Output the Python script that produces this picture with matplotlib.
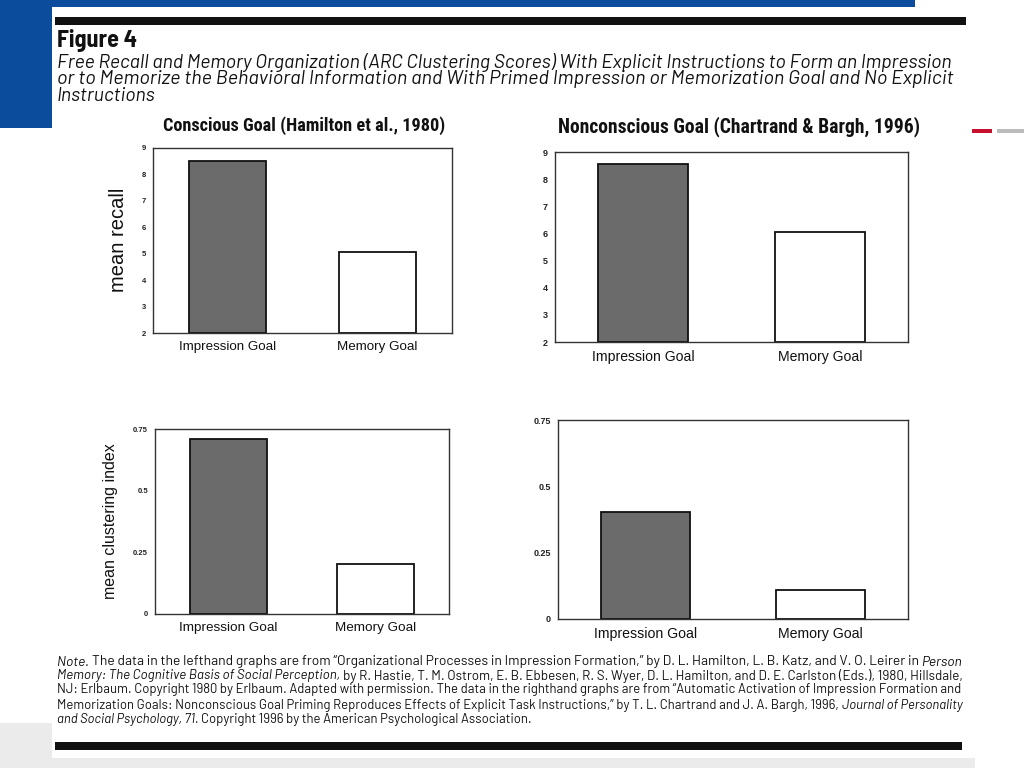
import matplotlib
matplotlib.use("Agg")
import matplotlib.pyplot as plt
from matplotlib import font_manager
from matplotlib.patches import Rectangle

# ---------------- data ----------------
categories = ["Impression Goal", "Memory Goal"]
recall_conscious = [8.52, 5.05]
recall_nonconscious = [8.55, 6.06]
cluster_conscious = [0.708, 0.203]
cluster_nonconscious = [0.404, 0.109]
recall_ticks = [2, 3, 4, 5, 6, 7, 8, 9]
cluster_ticks = [0, 0.25, 0.5, 0.75]
cluster_ticklabels = ["0", "0.25", "0.5", "0.75"]
title_left = "Conscious Goal (Hamilton et al., 1980)"
title_right = "Nonconscious Goal (Chartrand & Bargh, 1996)"
bar_colors = ["#6b6b6b", "white"]

W, H = 1024, 768
fig = plt.figure(figsize=(W / 100, H / 100), dpi=100)
fig.patch.set_facecolor("white")
renderer = fig.canvas.get_renderer()

available = {f.name for f in font_manager.fontManager.ttflist}


def pick(*names):
    fams = [n for n in names if n in available]
    return fams + ["DejaVu Sans"]


SANS = pick("Liberation Sans")
COND_BOLD = pick("Roboto Condensed", "Liberation Sans Narrow", "Archivo Narrow", "Asap Condensed", "Liberation Sans")
GEO_BOLD = pick("Barlow Semi Condensed", "Barlow", "Liberation Sans")
GEO = pick("Barlow", "Liberation Sans")


def fx(x):
    return x / W


def fy(y):
    return 1 - y / H


def rect(x0, y0, x1, y1, color):
    fig.patches.append(Rectangle((fx(x0), fy(y1)), fx(x1) - fx(x0), fy(y0) - fy(y1),
                                 transform=fig.transFigure, color=color, zorder=0, lw=0))


# decorative slide elements
rect(0, 0, 915, 7, "#0b4c9c")
rect(0, 0, 52, 128, "#0b4c9c")
rect(55, 17, 966, 25, "#111111")
rect(55, 742, 962, 750, "#111111")
rect(0, 723, 52, 768, "#ebebeb")
rect(0, 758, 975, 768, "#ebebeb")
rect(972, 129, 992, 133, "#c8102e")
rect(997, 129, 1024, 133, "#bbbbbb")


def measure(s, fs=10, **kw):
    t = fig.text(0, 0, s, fontsize=fs, **kw)
    w = t.get_window_extent(renderer).width
    t.remove()
    return w


def fit(x, y, s, width, **kw):
    fs = 10 * width / measure(s, 10, **kw)
    fs = fs * width / measure(s, fs, **kw)
    return fig.text(fx(x), fy(y), s, fontsize=fs, va="center", ha="left", **kw)


def seg_line(x, y, segments, width=None, fontsize=None, family=GEO, weight="normal"):
    def layout(fs):
        adv = []
        for s, st in segments:
            kw = dict(style=st, family=family, weight=weight)
            adv.append(measure(s + " x", fs, **kw) - measure("x", fs, **kw))
        last_kw = dict(style=segments[-1][1], family=family, weight=weight)
        total = sum(adv[:-1]) + measure(segments[-1][0], fs, **last_kw)
        return adv, total

    if fontsize is None:
        fs = 10.0
        for _ in range(3):
            adv, total = layout(fs)
            fs = fs * width / total
        fontsize = fs
    adv, total = layout(fontsize)
    cx = x
    for (s, st), a in zip(segments, adv):
        fig.text(fx(cx), fy(y), s, fontsize=fontsize, style=st, family=family, weight=weight,
                 va="center", ha="left", color="#111111")
        cx += a
    return fontsize


# header
fit(57, 40, "Figure 4", 80, weight="bold", family=GEO_BOLD, color="#111111")
fs_cap = seg_line(57, 62, [("Free Recall and Memory Organization (ARC Clustering Scores) With Explicit Instructions to Form an Impression", "italic")],
                  width=895)
seg_line(57, 79, [("or to Memorize the Behavioral Information and With Primed Impression or Memorization Goal and No Explicit", "italic")],
         width=897)
seg_line(57, 96, [("Instructions", "italic")], fontsize=fs_cap)

# panel titles
fit(163, 126, title_left, 282, weight="bold", family=COND_BOLD, color="#111111")
fit(558, 127, title_right, 362, weight="bold", family=COND_BOLD, color="#111111")


def panel(box, values, ticks, ticklabels, ylim, tick_fs, xlab_fs, width):
    x0, y0, x1, y1 = box
    ax = fig.add_axes([fx(x0), fy(y1), fx(x1) - fx(x0), fy(y0) - fy(y1)])
    ax.bar(range(len(categories)), [v - ylim[0] for v in values], bottom=ylim[0],
           width=width, color=bar_colors, edgecolor="#111111", linewidth=1.3)
    ax.set_xlim(-0.5, 1.5)
    ax.set_ylim(*ylim)
    ax.set_yticks(ticks)
    ax.set_yticklabels(ticklabels, fontsize=tick_fs, family=SANS, weight="bold", color="#222222")
    ax.set_xticks(range(len(categories)))
    ax.set_xticklabels(categories, fontsize=xlab_fs, family=SANS, color="#111111")
    ax.tick_params(axis="both", length=0)
    ax.tick_params(axis="y", pad=5)
    ax.tick_params(axis="x", pad=6)
    for sp in ax.spines.values():
        sp.set_color("#333333")
        sp.set_linewidth(1.0)
    return ax


panel((153, 148, 452, 333), recall_conscious, recall_ticks, [str(t) for t in recall_ticks],
      (2, 9), 5.5, 9.6, 0.515)
panel((555, 152, 908, 342), recall_nonconscious, recall_ticks, [str(t) for t in recall_ticks],
      (2, 9), 6.5, 10.1, 0.51)
panel((155, 429, 449, 614), cluster_conscious, cluster_ticks, cluster_ticklabels,
      (0, 0.75), 5.5, 9.7, 0.52)
panel((558, 420, 908, 619), cluster_nonconscious, cluster_ticks, cluster_ticklabels,
      (0, 0.75), 6.5, 10.2, 0.51)

# y labels
fig.text(fx(118), fy(240), "mean recall", rotation=90, fontsize=14.5, family=SANS,
         va="center", ha="center", color="#111111")
fig.text(fx(110), fy(521), "mean clustering index", rotation=90, fontsize=11.5, family=SANS,
         va="center", ha="center", color="#111111")

# note
seg_line(57, 662, [("Note.", "italic"),
                   ("The data in the lefthand graphs are from \u201cOrganizational Processes in Impression Formation,\u201d by D. L. Hamilton, L. B. Katz, and V. O. Leirer in", "normal"),
                   ("Person", "italic")], width=905)
seg_line(57, 676, [("Memory: The Cognitive Basis of Social Perception,", "italic"),
                   ("by R. Hastie, T. M. Ostrom, E. B. Ebbesen, R. S. Wyer, D. L. Hamilton, and D. E. Carlston (Eds.), 1980, Hillsdale,", "normal")], width=905)
fs_note = seg_line(57, 690, [("NJ: Erlbaum. Copyright 1980 by Erlbaum. Adapted with permission. The data in the righthand graphs are from \u201cAutomatic Activation of Impression Formation and", "normal")], width=905)
seg_line(57, 705, [("Memorization Goals: Nonconscious Goal Priming Reproduces Effects of Explicit Task Instructions,\u201d by T. L. Chartrand and J. A. Bargh, 1996,", "normal"),
                   ("Journal of Personality", "italic")], width=905)
seg_line(57, 719, [("and Social Psychology, 71.", "italic"),
                   ("Copyright 1996 by the American Psychological Association.", "normal")], fontsize=fs_note)

fig.savefig("out.png", dpi=100, facecolor="white")
